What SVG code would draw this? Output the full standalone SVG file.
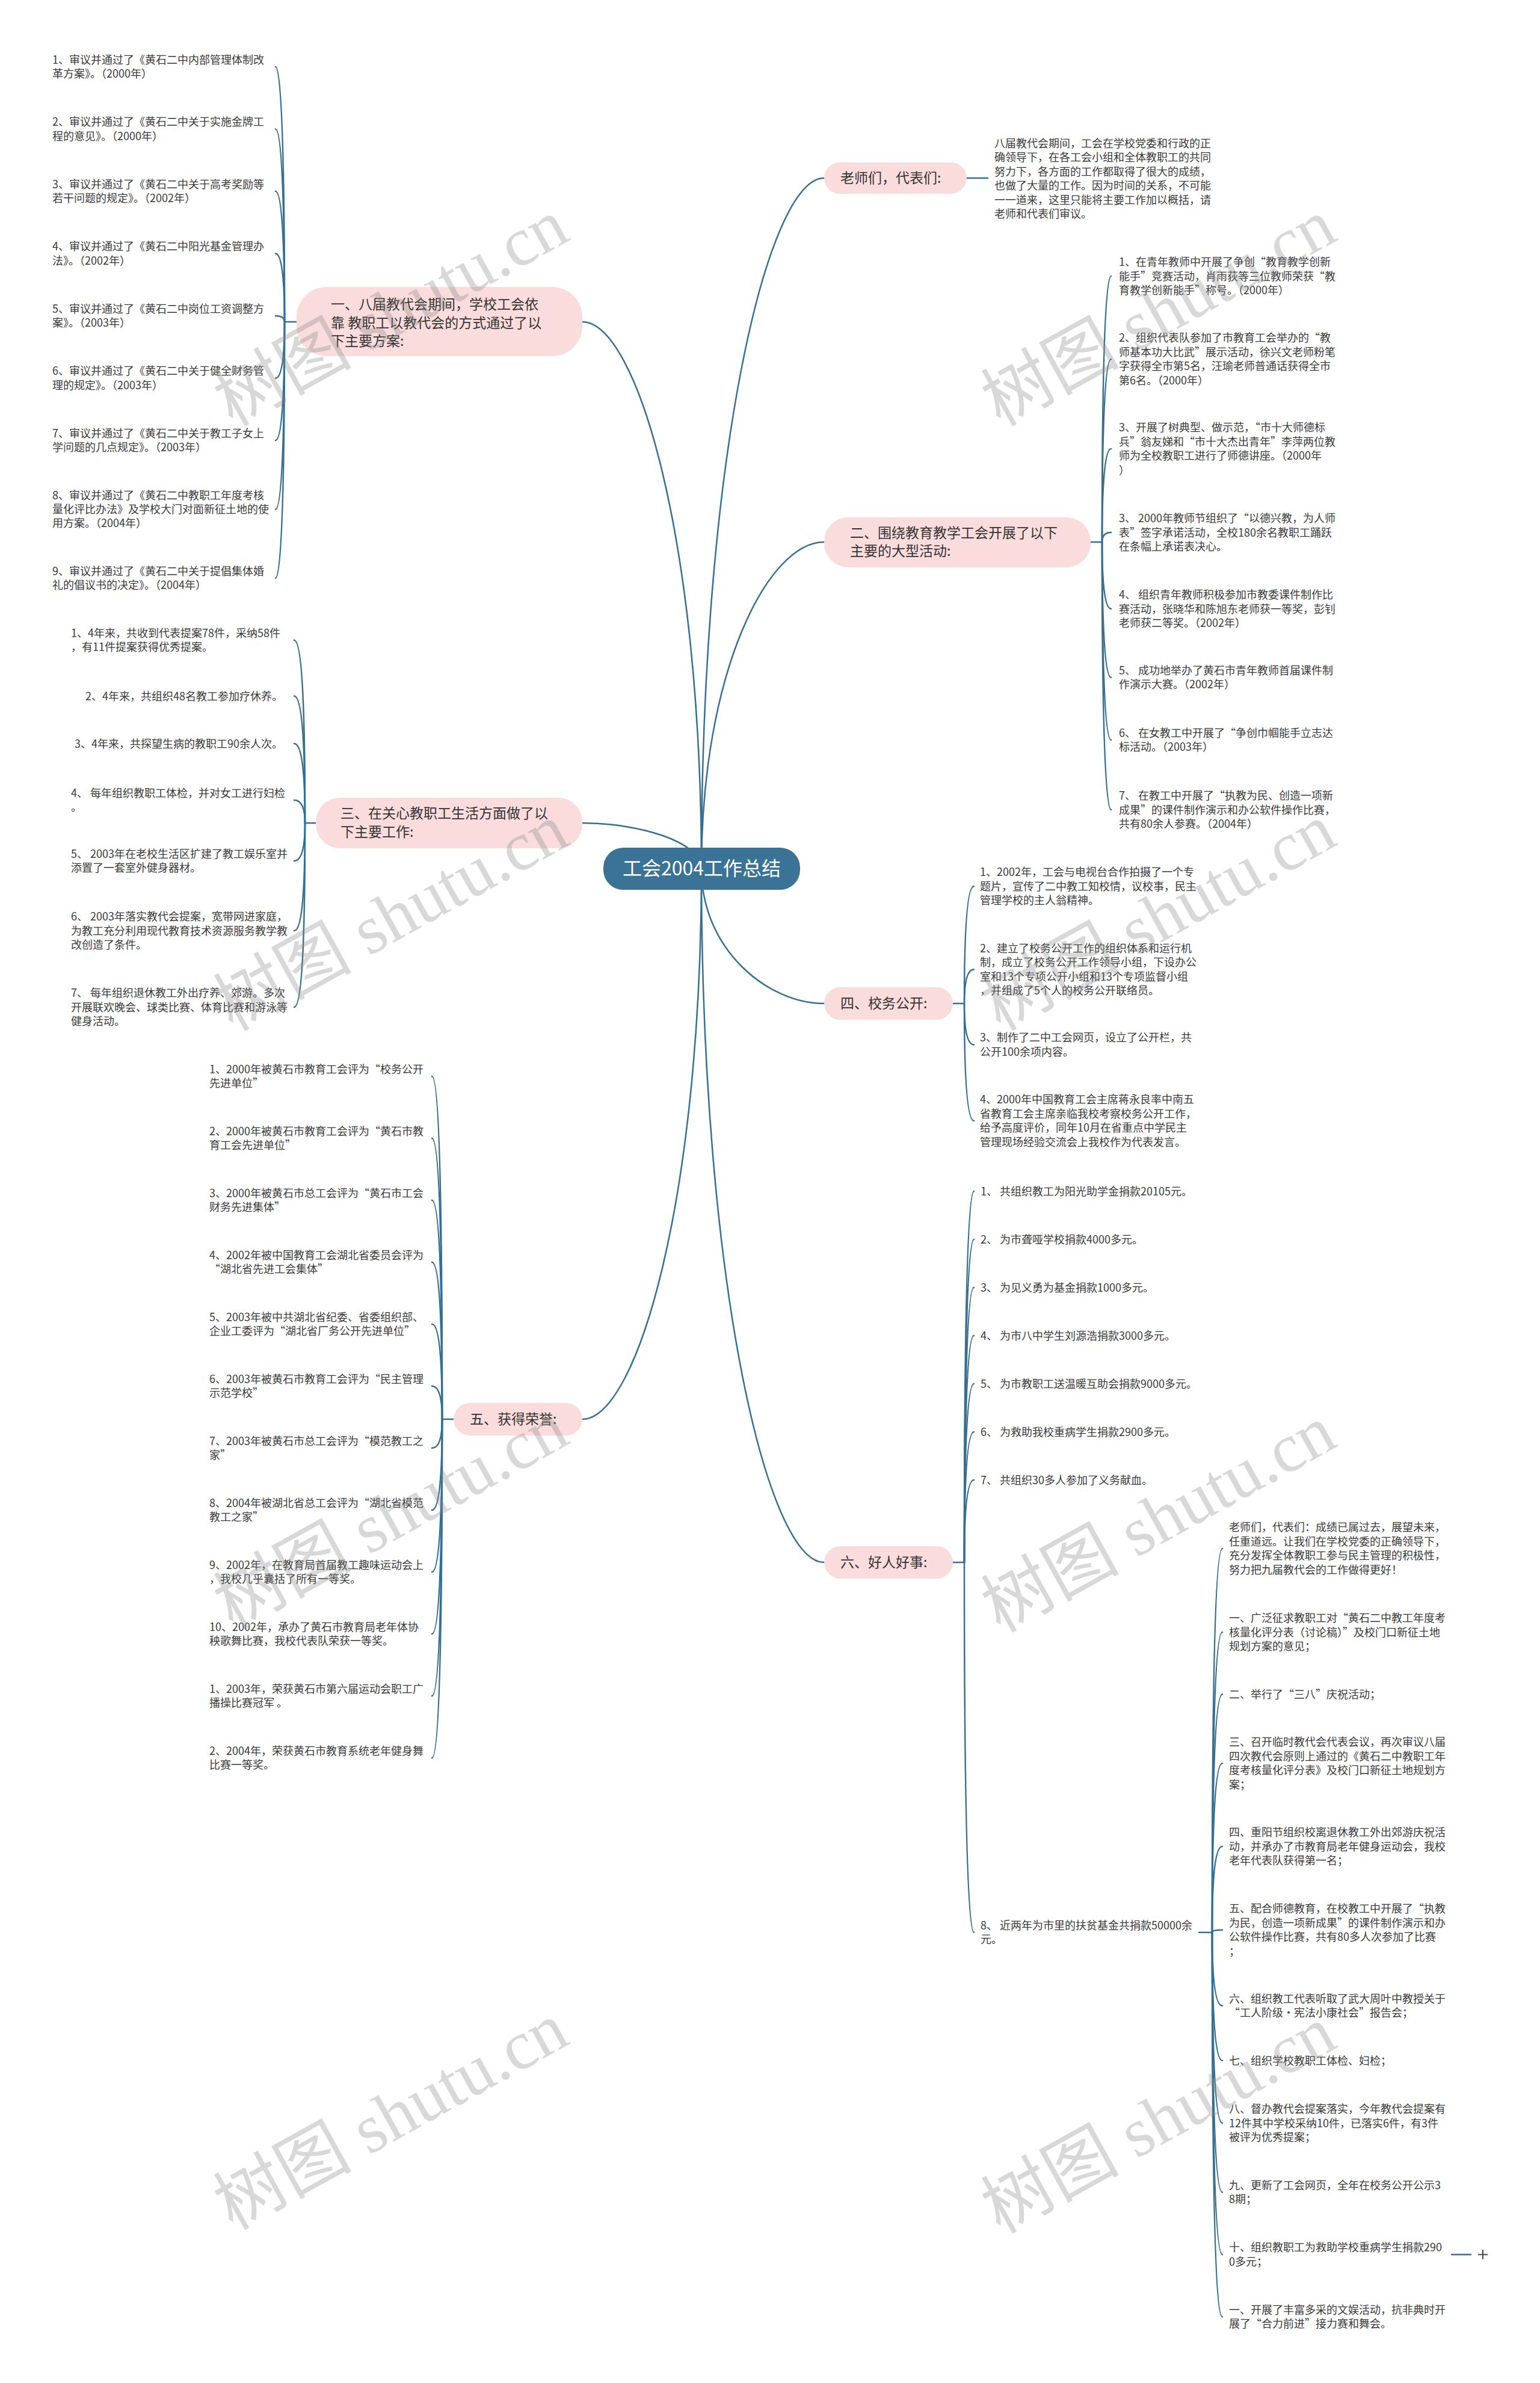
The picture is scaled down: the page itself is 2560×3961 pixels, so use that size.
<svg xmlns="http://www.w3.org/2000/svg" width="2560" height="3961" viewBox="0 0 2560 3961">
<style>
.edge{fill:none;stroke:#356f92;stroke-width:2.5;stroke-linecap:round}
.leaf{font-family:"Noto Sans CJK SC","Noto Sans",sans-serif;font-size:18px;fill:#3a3a3a}
.lblbox{fill:#fadcdc}
.lbl{font-family:"Noto Sans CJK SC","Noto Sans",sans-serif;font-size:23px;fill:#333}
.wm{font-family:"Liberation Serif","Noto Sans CJK SC",serif;font-size:115px;fill:#8a8a8a;opacity:0.33}
</style>
<rect x="0" y="0" width="2560" height="3961" fill="#ffffff"/>

<g id="connectors">
<path class="edge" d="M1166,1444 C1166,755 1276,296 1370,296"/>
<path class="edge" d="M1166,1444 C1166,1118 1276,901 1370,901"/>
<path class="edge" d="M1166,1444 C1166,1578 1276,1668 1370,1668"/>
<path class="edge" d="M1166,1444 C1166,2136 1276,2597 1370,2597"/>
<path class="edge" d="M1166,1444 C1166,899 1059,535 968,535"/>
<path class="edge" d="M1166,1444 C1166,1398 1059,1368 968,1368"/>
<path class="edge" d="M1166,1444 C1166,1993 1059,2359 968,2359"/>
<path class="edge" d="M1607,296 H1642"/>
<path class="edge" d="M493,535 H473"/>
<path class="edge" d="M473,535 C473,323 470,111 458,111"/>
<path class="edge" d="M473,535 C473,375 470,214.5 458,214.5"/>
<path class="edge" d="M473,535 C473,426.5 470,318 458,318"/>
<path class="edge" d="M473,535 C473,478 470,421.5 458,421.5"/>
<path class="edge" d="M473,535 C473,530 470,525 458,525"/>
<path class="edge" d="M473,535 C473,581.8 470,628.5 458,628.5"/>
<path class="edge" d="M473,535 C473,633.5 470,732 458,732"/>
<path class="edge" d="M473,535 C473,690.8 470,846.5 458,846.5"/>
<path class="edge" d="M473,535 C473,748 470,961 458,961"/>
<path class="edge" d="M525,1368 H507"/>
<path class="edge" d="M507,1368 C507,1216 504,1064 489,1064"/>
<path class="edge" d="M507,1368 C507,1262.5 504,1157 489,1157"/>
<path class="edge" d="M507,1368 C507,1302 504,1236 489,1236"/>
<path class="edge" d="M507,1368 C507,1349 504,1330 489,1330"/>
<path class="edge" d="M507,1368 C507,1399.5 504,1431 489,1431"/>
<path class="edge" d="M507,1368 C507,1457.5 504,1547 489,1547"/>
<path class="edge" d="M507,1368 C507,1521 504,1674 489,1674"/>
<path class="edge" d="M754,2359 H735"/>
<path class="edge" d="M735,2359 C735,2074 732,1789 718,1789"/>
<path class="edge" d="M735,2359 C735,2125.5 732,1892 718,1892"/>
<path class="edge" d="M735,2359 C735,2177 732,1995 718,1995"/>
<path class="edge" d="M735,2359 C735,2228.5 732,2098 718,2098"/>
<path class="edge" d="M735,2359 C735,2280 732,2201 718,2201"/>
<path class="edge" d="M735,2359 C735,2331.5 732,2304 718,2304"/>
<path class="edge" d="M735,2359 C735,2383 732,2407 718,2407"/>
<path class="edge" d="M735,2359 C735,2434.5 732,2510 718,2510"/>
<path class="edge" d="M735,2359 C735,2486 732,2613 718,2613"/>
<path class="edge" d="M735,2359 C735,2537.5 732,2716 718,2716"/>
<path class="edge" d="M735,2359 C735,2589 732,2819 718,2819"/>
<path class="edge" d="M735,2359 C735,2640.5 732,2922 718,2922"/>
<path class="edge" d="M1813,901 H1832"/>
<path class="edge" d="M1832,901 C1832,680 1835,459 1847,459"/>
<path class="edge" d="M1832,901 C1832,749 1835,597 1847,597"/>
<path class="edge" d="M1832,901 C1832,823.5 1835,746 1847,746"/>
<path class="edge" d="M1832,901 C1832,893 1835,885 1847,885"/>
<path class="edge" d="M1832,901 C1832,956.5 1835,1012 1847,1012"/>
<path class="edge" d="M1832,901 C1832,1013.5 1835,1126 1847,1126"/>
<path class="edge" d="M1832,901 C1832,1065.5 1835,1230 1847,1230"/>
<path class="edge" d="M1832,901 C1832,1123.5 1835,1346 1847,1346"/>
<path class="edge" d="M1584,1668 H1603"/>
<path class="edge" d="M1603,1668 C1603,1570.5 1606,1473 1619,1473"/>
<path class="edge" d="M1603,1668 C1603,1639.8 1606,1611.5 1619,1611.5"/>
<path class="edge" d="M1603,1668 C1603,1702.3 1606,1736.5 1619,1736.5"/>
<path class="edge" d="M1603,1668 C1603,1765.5 1606,1863 1619,1863"/>
<path class="edge" d="M1584,2597 H1603"/>
<path class="edge" d="M1603,2597 C1603,2288.5 1606,1980 1619,1980"/>
<path class="edge" d="M1603,2597 C1603,2328.5 1606,2060 1619,2060"/>
<path class="edge" d="M1603,2597 C1603,2368.5 1606,2140 1619,2140"/>
<path class="edge" d="M1603,2597 C1603,2408.5 1606,2220 1619,2220"/>
<path class="edge" d="M1603,2597 C1603,2448.5 1606,2300 1619,2300"/>
<path class="edge" d="M1603,2597 C1603,2488.5 1606,2380 1619,2380"/>
<path class="edge" d="M1603,2597 C1603,2528.5 1606,2460 1619,2460"/>
<path class="edge" d="M1603,2597 C1603,2904.5 1606,3212 1619,3212"/>
<path class="edge" d="M1993,3212 H2015"/>
<path class="edge" d="M2015,3212 C2015,2893 2018,2574 2032,2574"/>
<path class="edge" d="M2015,3212 C2015,2962.5 2018,2713 2032,2713"/>
<path class="edge" d="M2015,3212 C2015,3014 2018,2816 2032,2816"/>
<path class="edge" d="M2015,3212 C2015,3071.5 2018,2931 2032,2931"/>
<path class="edge" d="M2015,3212 C2015,3140.5 2018,3069 2032,3069"/>
<path class="edge" d="M2015,3212 C2015,3210 2018,3208 2032,3208"/>
<path class="edge" d="M2015,3212 C2015,3273 2018,3334 2032,3334"/>
<path class="edge" d="M2015,3212 C2015,3318.5 2018,3425 2032,3425"/>
<path class="edge" d="M2015,3212 C2015,3370.5 2018,3529 2032,3529"/>
<path class="edge" d="M2015,3212 C2015,3428 2018,3644 2032,3644"/>
<path class="edge" d="M2015,3212 C2015,3479.8 2018,3747.5 2032,3747.5"/>
<path class="edge" d="M2015,3212 C2015,3531.5 2018,3851 2032,3851"/>
<path class="edge" d="M2413,3747.5 H2445"/>
</g>

<g id="center">
<rect x="1003" y="1409" width="327" height="70" rx="33" fill="#3a7396"/>
<text x="1166.5" y="1455" text-anchor="middle" font-family="Noto Sans CJK SC, Noto Sans, sans-serif" font-size="32" fill="#ffffff">工会2004工作总结</text>
</g>

<g id="n-laoshi">
<rect class="lblbox" x="1370" y="270" width="237" height="52" rx="26"/>
<text class="lbl" x="1397" y="304">老师们，代表们:</text>
</g>
<g id="n-laoshi-text">
<text class="leaf" x="1653" y="245"><tspan x="1653">八届教代会期间，工会在学校党委和行政的正</tspan><tspan x="1653" dy="23.4">确领导下，在各工会小组和全体教职工的共同</tspan><tspan x="1653" dy="23.4">努力下，各方面的工作都取得了很大的成绩，</tspan><tspan x="1653" dy="23.4">也做了大量的工作。因为时间的关系，不可能</tspan><tspan x="1653" dy="23.4">一一道来，这里只能将主要工作加以概括，请</tspan><tspan x="1653" dy="23.4">老师和代表们审议。</tspan></text>
</g>

<g id="n-sec1">
<rect class="lblbox" x="493" y="477" width="475" height="115" rx="50"/>
<text class="lbl" x="550" y="514"><tspan x="550">一、八届教代会期间，学校工会依</tspan><tspan x="550" dy="30.7">靠 教职工以教代会的方式通过了以</tspan><tspan x="550" dy="30.7">下主要方案:</tspan></text>
</g>
<g id="n-sec1-items" class="leaf">
<text x="87" y="105.8"><tspan x="87">1、审议并通过了《黄石二中内部管理体制改</tspan><tspan x="87" dy="23.4">革方案》。（2000年）</tspan></text>
<text x="87" y="209.3"><tspan x="87">2、审议并通过了《黄石二中关于实施金牌工</tspan><tspan x="87" dy="23.4">程的意见》。（2000年）</tspan></text>
<text x="87" y="312.8"><tspan x="87">3、审议并通过了《黄石二中关于高考奖励等</tspan><tspan x="87" dy="23.4">若干问题的规定》。（2002年）</tspan></text>
<text x="87" y="416.3"><tspan x="87">4、审议并通过了《黄石二中阳光基金管理办</tspan><tspan x="87" dy="23.4">法》。（2002年）</tspan></text>
<text x="87" y="519.8"><tspan x="87">5、审议并通过了《黄石二中岗位工资调整方</tspan><tspan x="87" dy="23.4">案》。（2003年）</tspan></text>
<text x="87" y="623.3"><tspan x="87">6、审议并通过了《黄石二中关于健全财务管</tspan><tspan x="87" dy="23.4">理的规定》。（2003年）</tspan></text>
<text x="87" y="726.8"><tspan x="87">7、审议并通过了《黄石二中关于教工子女上</tspan><tspan x="87" dy="23.4">学问题的几点规定》。（2003年）</tspan></text>
<text x="87" y="829.6"><tspan x="87">8、审议并通过了《黄石二中教职工年度考核</tspan><tspan x="87" dy="23.4">量化评比办法》及学校大门对面新征土地的使</tspan><tspan x="87" dy="23.4">用方案。（2004年）</tspan></text>
<text x="87" y="955.8"><tspan x="87">9、审议并通过了《黄石二中关于提倡集体婚</tspan><tspan x="87" dy="23.4">礼的倡议书的决定》。（2004年）</tspan></text>
</g>

<g id="n-sec2">
<rect class="lblbox" x="1370" y="860" width="443" height="83" rx="40"/>
<text class="lbl" x="1413" y="894"><tspan x="1413">二、围绕教育教学工会开展了以下</tspan><tspan x="1413" dy="30">主要的大型活动:</tspan></text>
</g>
<g id="n-sec2-items" class="leaf">
<text x="1860" y="442.1"><tspan x="1860">1、在青年教师中开展了争创“教育教学创新</tspan><tspan x="1860" dy="23.4">能手”竞赛活动，肖雨荻等三位教师荣获“教</tspan><tspan x="1860" dy="23.4">育教学创新能手”称号。（2000年）</tspan></text>
<text x="1860" y="568.4"><tspan x="1860">2、组织代表队参加了市教育工会举办的“教</tspan><tspan x="1860" dy="23.4">师基本功大比武”展示活动，徐兴文老师粉笔</tspan><tspan x="1860" dy="23.4">字获得全市第5名，汪瑜老师普通话获得全市</tspan><tspan x="1860" dy="23.4">第6名。（2000年）</tspan></text>
<text x="1860" y="717.4"><tspan x="1860">3、开展了树典型、做示范，“市十大师德标</tspan><tspan x="1860" dy="23.4">兵”翁友娣和“市十大杰出青年”李萍两位教</tspan><tspan x="1860" dy="23.4">师为全校教职工进行了师德讲座。（2000年</tspan><tspan x="1860" dy="23.4">）</tspan></text>
<text x="1860" y="868.1"><tspan x="1860">3、 2000年教师节组织了“以德兴教，为人师</tspan><tspan x="1860" dy="23.4">表”签字承诺活动，全校180余名教职工踊跃</tspan><tspan x="1860" dy="23.4">在条幅上承诺表决心。</tspan></text>
<text x="1860" y="995.1"><tspan x="1860">4、 组织青年教师积极参加市教委课件制作比</tspan><tspan x="1860" dy="23.4">赛活动，张晓华和陈旭东老师获一等奖，彭钊</tspan><tspan x="1860" dy="23.4">老师获二等奖。（2002年）</tspan></text>
<text x="1860" y="1120.8"><tspan x="1860">5、 成功地举办了黄石市青年教师首届课件制</tspan><tspan x="1860" dy="23.4">作演示大赛。（2002年）</tspan></text>
<text x="1860" y="1224.8"><tspan x="1860">6、 在女教工中开展了“争创巾帼能手立志达</tspan><tspan x="1860" dy="23.4">标活动。（2003年）</tspan></text>
<text x="1860" y="1329.1"><tspan x="1860">7、 在教工中开展了“执教为民、创造一项新</tspan><tspan x="1860" dy="23.4">成果”的课件制作演示和办公软件操作比赛，</tspan><tspan x="1860" dy="23.4">共有80余人参赛。（2004年）</tspan></text>
</g>

<g id="n-sec3">
<rect class="lblbox" x="525" y="1326" width="443" height="84" rx="40"/>
<text class="lbl" x="566" y="1360"><tspan x="566">三、在关心教职工生活方面做了以</tspan><tspan x="566" dy="31">下主要工作:</tspan></text>
</g>
<g id="n-sec3-items" class="leaf">
<text x="118" y="1058.8"><tspan x="118">1、4年来，共收到代表提案78件，采纳58件</tspan><tspan x="118" dy="23.4">，有11件提案获得优秀提案。</tspan></text>
<text x="470" y="1163.5" text-anchor="end">2、4年来，共组织48名教工参加疗休养。</text>
<text x="470" y="1242.5" text-anchor="end">3、4年来，共探望生病的教职工90余人次。</text>
<text x="118" y="1324.8"><tspan x="118">4、 每年组织教职工体检，并对女工进行妇检</tspan><tspan x="118" dy="23.4">。</tspan></text>
<text x="118" y="1425.8"><tspan x="118">5、 2003年在老校生活区扩建了教工娱乐室并</tspan><tspan x="118" dy="23.4">添置了一套室外健身器材。</tspan></text>
<text x="118" y="1530.1"><tspan x="118">6、 2003年落实教代会提案，宽带网进家庭，</tspan><tspan x="118" dy="23.4">为教工充分利用现代教育技术资源服务教学教</tspan><tspan x="118" dy="23.4">改创造了条件。</tspan></text>
<text x="118" y="1657.1"><tspan x="118">7、 每年组织退休教工外出疗养、郊游。多次</tspan><tspan x="118" dy="23.4">开展联欢晚会、球类比赛、体育比赛和游泳等</tspan><tspan x="118" dy="23.4">健身活动。</tspan></text>
</g>

<g id="n-sec4">
<rect class="lblbox" x="1370" y="1641" width="214" height="54" rx="27"/>
<text class="lbl" x="1397" y="1676">四、校务公开:</text>
</g>
<g id="n-sec4-items" class="leaf">
<text x="1629" y="1456.1"><tspan x="1629">1、2002年，工会与电视台合作拍摄了一个专</tspan><tspan x="1629" dy="23.4">题片，宣传了二中教工知校情，议校事，民主</tspan><tspan x="1629" dy="23.4">管理学校的主人翁精神。</tspan></text>
<text x="1629" y="1582.9"><tspan x="1629">2、建立了校务公开工作的组织体系和运行机</tspan><tspan x="1629" dy="23.4">制，成立了校务公开工作领导小组，下设办公</tspan><tspan x="1629" dy="23.4">室和13个专项公开小组和13个专项监督小组</tspan><tspan x="1629" dy="23.4">，并组成了5个人的校务公开联络员。</tspan></text>
<text x="1629" y="1731.3"><tspan x="1629">3、制作了二中工会网页，设立了公开栏，共</tspan><tspan x="1629" dy="23.4">公开100余项内容。</tspan></text>
<text x="1629" y="1834.4"><tspan x="1629">4、2000年中国教育工会主席蒋永良率中南五</tspan><tspan x="1629" dy="23.4">省教育工会主席亲临我校考察校务公开工作，</tspan><tspan x="1629" dy="23.4">给予高度评价，同年10月在省重点中学民主</tspan><tspan x="1629" dy="23.4">管理现场经验交流会上我校作为代表发言。</tspan></text>
</g>

<g id="n-sec5">
<rect class="lblbox" x="754" y="2332" width="214" height="54" rx="27"/>
<text class="lbl" x="781" y="2367">五、获得荣誉:</text>
</g>
<g id="n-sec5-items" class="leaf">
<text x="348" y="1783.8"><tspan x="348">1、2000年被黄石市教育工会评为“校务公开</tspan><tspan x="348" dy="23.4">先进单位”</tspan></text>
<text x="348" y="1886.8"><tspan x="348">2、2000年被黄石市教育工会评为“黄石市教</tspan><tspan x="348" dy="23.4">育工会先进单位”</tspan></text>
<text x="348" y="1989.8"><tspan x="348">3、2000年被黄石市总工会评为“黄石市工会</tspan><tspan x="348" dy="23.4">财务先进集体”</tspan></text>
<text x="348" y="2092.8"><tspan x="348">4、2002年被中国教育工会湖北省委员会评为</tspan><tspan x="348" dy="23.4">“湖北省先进工会集体”</tspan></text>
<text x="348" y="2195.8"><tspan x="348">5、2003年被中共湖北省纪委、省委组织部、</tspan><tspan x="348" dy="23.4">企业工委评为“湖北省厂务公开先进单位”</tspan></text>
<text x="348" y="2298.8"><tspan x="348">6、2003年被黄石市教育工会评为“民主管理</tspan><tspan x="348" dy="23.4">示范学校”</tspan></text>
<text x="348" y="2401.8"><tspan x="348">7、2003年被黄石市总工会评为“模范教工之</tspan><tspan x="348" dy="23.4">家”</tspan></text>
<text x="348" y="2504.8"><tspan x="348">8、2004年被湖北省总工会评为“湖北省模范</tspan><tspan x="348" dy="23.4">教工之家”</tspan></text>
<text x="348" y="2607.8"><tspan x="348">9、2002年，在教育局首届教工趣味运动会上</tspan><tspan x="348" dy="23.4">，我校几乎囊括了所有一等奖。</tspan></text>
<text x="348" y="2710.8"><tspan x="348">10、2002年，承办了黄石市教育局老年体协</tspan><tspan x="348" dy="23.4">秧歌舞比赛，我校代表队荣获一等奖。</tspan></text>
<text x="348" y="2813.8"><tspan x="348">1、2003年，荣获黄石市第六届运动会职工广</tspan><tspan x="348" dy="23.4">播操比赛冠军 。</tspan></text>
<text x="348" y="2916.8"><tspan x="348">2、2004年，荣获黄石市教育系统老年健身舞</tspan><tspan x="348" dy="23.4">比赛一等奖。</tspan></text>
</g>

<g id="n-sec6">
<rect class="lblbox" x="1370" y="2570" width="214" height="54" rx="27"/>
<text class="lbl" x="1397" y="2605">六、好人好事:</text>
</g>
<g id="n-sec6-items" class="leaf">
<text x="1630" y="1986.5">1、 共组织教工为阳光助学金捐款20105元。</text>
<text x="1630" y="2066.5">2、 为市聋哑学校捐款4000多元。</text>
<text x="1630" y="2146.5">3、 为见义勇为基金捐款1000多元。</text>
<text x="1630" y="2226.5">4、 为市八中学生刘源浩捐款3000多元。</text>
<text x="1630" y="2306.5">5、 为市教职工送温暖互助会捐款9000多元。</text>
<text x="1630" y="2386.5">6、 为救助我校重病学生捐款2900多元。</text>
<text x="1630" y="2466.5">7、 共组织30多人参加了义务献血。</text>
<text x="1630" y="3206.8"><tspan x="1630">8、 近两年为市里的扶贫基金共捐款50000余</tspan><tspan x="1630" dy="23.4">元。</tspan></text>
</g>

<g id="n-sec6-sub" class="leaf">
<text x="2043" y="2545.4"><tspan x="2043">老师们，代表们：成绩已属过去，展望未来，</tspan><tspan x="2043" dy="23.4">任重道远。让我们在学校党委的正确领导下，</tspan><tspan x="2043" dy="23.4">充分发挥全体教职工参与民主管理的积极性，</tspan><tspan x="2043" dy="23.4">努力把九届教代会的工作做得更好！</tspan></text>
<text x="2043" y="2696.1"><tspan x="2043">一、广泛征求教职工对“黄石二中教工年度考</tspan><tspan x="2043" dy="23.4">核量化评分表（讨论稿）”及校门口新征土地</tspan><tspan x="2043" dy="23.4">规划方案的意见；</tspan></text>
<text x="2043" y="2822.5">二、举行了“三八”庆祝活动；</text>
<text x="2043" y="2902.4"><tspan x="2043">三、召开临时教代会代表会议，再次审议八届</tspan><tspan x="2043" dy="23.4">四次教代会原则上通过的《黄石二中教职工年</tspan><tspan x="2043" dy="23.4">度考核量化评分表》及校门口新征土地规划方</tspan><tspan x="2043" dy="23.4">案；</tspan></text>
<text x="2043" y="3052.1"><tspan x="2043">四、重阳节组织校离退休教工外出郊游庆祝活</tspan><tspan x="2043" dy="23.4">动，并承办了市教育局老年健身运动会，我校</tspan><tspan x="2043" dy="23.4">老年代表队获得第一名；</tspan></text>
<text x="2043" y="3179.4"><tspan x="2043">五、配合师德教育，在校教工中开展了“执教</tspan><tspan x="2043" dy="23.4">为民，创造一项新成果”的课件制作演示和办</tspan><tspan x="2043" dy="23.4">公软件操作比赛，共有80多人次参加了比赛</tspan><tspan x="2043" dy="23.4">；</tspan></text>
<text x="2043" y="3328.8"><tspan x="2043">六、组织教工代表听取了武大周叶中教授关于</tspan><tspan x="2043" dy="23.4">“工人阶级·宪法小康社会”报告会；</tspan></text>
<text x="2043" y="3431.5">七、组织学校教职工体检、妇检；</text>
<text x="2043" y="3512.1"><tspan x="2043">八、督办教代会提案落实，今年教代会提案有</tspan><tspan x="2043" dy="23.4">12件其中学校采纳10件，已落实6件，有3件</tspan><tspan x="2043" dy="23.4">被评为优秀提案；</tspan></text>
<text x="2043" y="3638.8"><tspan x="2043">九、更新了工会网页，全年在校务公开公示3</tspan><tspan x="2043" dy="23.4">8期；</tspan></text>
<text x="2043" y="3742.3"><tspan x="2043">十、组织教职工为救助学校重病学生捐款290</tspan><tspan x="2043" dy="23.4">0多元；</tspan></text>
<text x="2043" y="3845.8"><tspan x="2043">一、开展了丰富多采的文娱活动，抗非典时开</tspan><tspan x="2043" dy="23.4">展了“合力前进”接力赛和舞会。</tspan></text>
</g>

<g id="collapse-k">
<path d="M2457,3747.5 H2473 M2465,3739.5 V3755.5" stroke="#444" stroke-width="2" fill="none"/>
</g>

<g id="watermarks">
<text class="wm" x="650" y="520" text-anchor="middle" dominant-baseline="central" transform="rotate(-29 650 520)">树图 shutu.cn</text>
<text class="wm" x="1926" y="520" text-anchor="middle" dominant-baseline="central" transform="rotate(-29 1926 520)">树图 shutu.cn</text>
<text class="wm" x="650" y="1525" text-anchor="middle" dominant-baseline="central" transform="rotate(-29 650 1525)">树图 shutu.cn</text>
<text class="wm" x="1926" y="1525" text-anchor="middle" dominant-baseline="central" transform="rotate(-29 1926 1525)">树图 shutu.cn</text>
<text class="wm" x="650" y="2520" text-anchor="middle" dominant-baseline="central" transform="rotate(-29 650 2520)">树图 shutu.cn</text>
<text class="wm" x="1926" y="2525" text-anchor="middle" dominant-baseline="central" transform="rotate(-29 1926 2525)">树图 shutu.cn</text>
<text class="wm" x="650" y="3518" text-anchor="middle" dominant-baseline="central" transform="rotate(-29 650 3518)">树图 shutu.cn</text>
<text class="wm" x="1926" y="3524" text-anchor="middle" dominant-baseline="central" transform="rotate(-29 1926 3524)">树图 shutu.cn</text>
</g>
</svg>
